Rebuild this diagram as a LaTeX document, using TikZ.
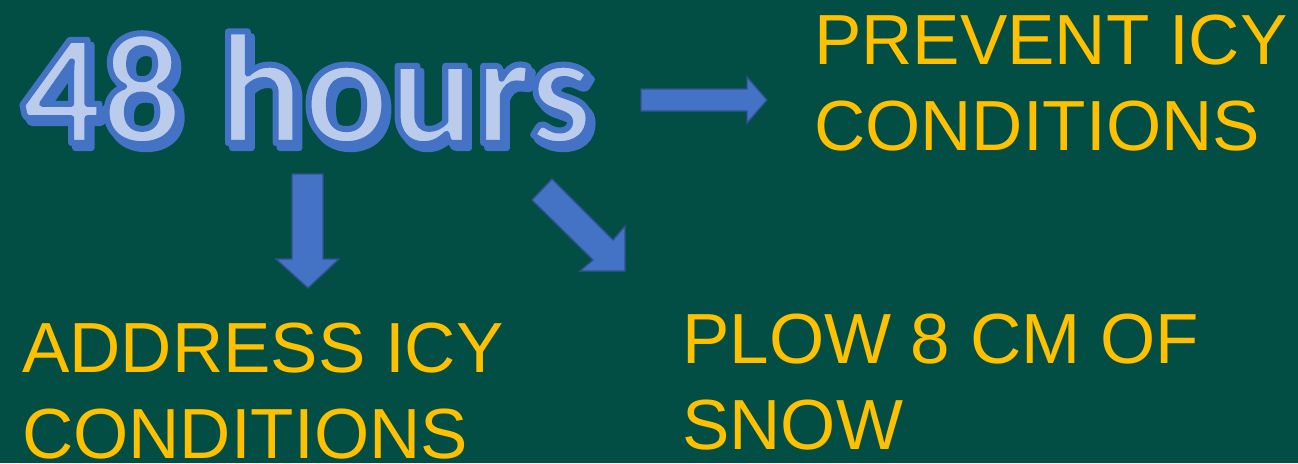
\documentclass[tikz,border=0pt]{standalone}
\usepackage{fontspec}
\usetikzlibrary{calc}
\setmainfont{Liberation Sans}
\newfontfamily\titlefont{Carlito}[BoldFont=* Bold]
\definecolor{bgteal}{HTML}{024E44}
\definecolor{gold}{HTML}{FFC000}
\definecolor{arrowblue}{HTML}{4472C4}
\definecolor{arrowedge}{HTML}{2F528F}
\definecolor{titlefill}{HTML}{BACBEB}
\newcommand{\outlinedtext}[1]{\special{pdf:literal direct 0.267 0.447 0.769 RG 6 w 1 j 2 Tr}#1\special{pdf:literal direct 0 Tr}}
\tikzset{
  label text/.style={text=gold, font=\fontsize{71}{86}\selectfont, inner sep=0pt, anchor=base west, align=left},
  blockarrow/.style={fill=arrowblue, draw=arrowedge, line width=1.3pt, line join=miter},
  title text/.style={font=\titlefont\bfseries\fontsize{159}{170}\selectfont, inner sep=0pt, anchor=base west},
}
\begin{document}
\begin{tikzpicture}[x=1pt,y=-1pt]
\fill[bgteal] (0,0) rectangle (1298,463);
\useasboundingbox (0,0) rectangle (1298,463);
% title: shadow, then outlined fill
\node[title text, text=arrowblue] (shadow) at (25,148) {\outlinedtext{48 hours}};
\node[title text, text=titlefill] (title) at (21,143) {\outlinedtext{48 hours}};
% labels (anchor = baseline of last line)
\node[label text] (prevent) at (814,150) {PREVENT ICY\\CONDITIONS};
\node[label text] (address) at (22,458) {ADDRESS ICY\\CONDITIONS};
\node[label text] (plow) at (682,449) {PLOW 8 CM OF\\SNOW};
% right arrow
\draw[blockarrow] (641,89) -- (747,89) -- (747,77) -- (767,100) -- (747,123) -- (747,111) -- (641,111) -- cycle;
% down arrow
\draw[blockarrow] (292,174) -- (323,174) -- (323,259) -- (339,259) -- (308,288) -- (276,259) -- (292,259) -- cycle;
% diagonal arrow
\draw[blockarrow] (552,179) -- (613,240) -- (625,226) -- (625,271) -- (580,271) -- (593,260) -- (532,200) -- cycle;
\end{tikzpicture}
\end{document}
